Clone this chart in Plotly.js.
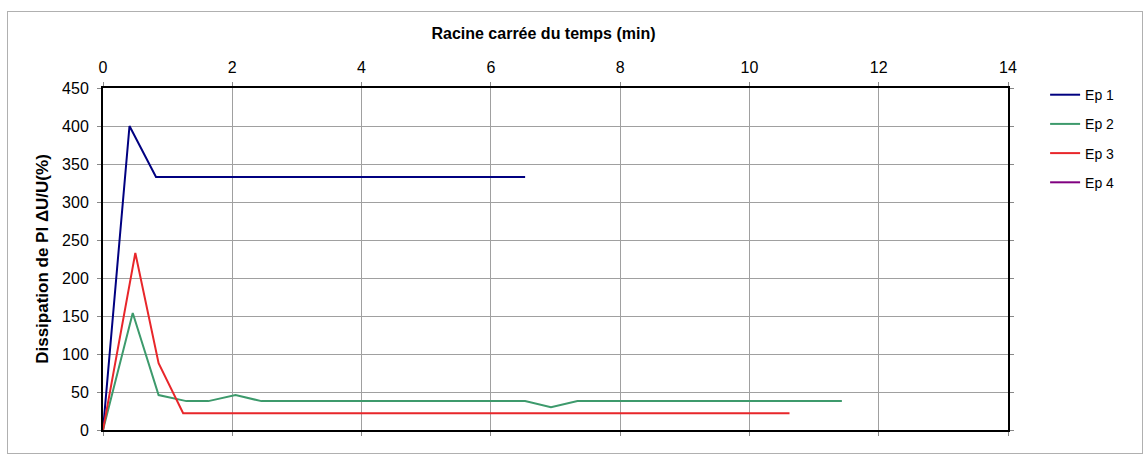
<!DOCTYPE html>
<html><head><meta charset="utf-8">
<script src="https://cdn.plot.ly/plotly-3.0.1.min.js"></script>
<style>
html,body{margin:0;padding:0;background:#fff;}
#frame{position:absolute;left:7px;top:11px;width:1134px;height:441px;border:1px solid #b0b0b0;pointer-events:none;}
#chart{position:absolute;left:0;top:0;width:1146px;height:457px;}
</style></head>
<body>
<div id="chart"></div>
<div id="frame"></div>
<script>
const ep1X = [0, 0.41, 0.82, 6.53];
const ep1Y = [0, 400, 333, 333];
const ep2X = [0, 0.46, 0.86, 1.29, 1.63, 2.05, 2.45, 6.53, 6.93, 7.34, 11.43];
const ep2Y = [0, 154, 46, 38, 38, 46, 38, 38, 30, 38, 38];
const ep3X = [0, 0.50, 0.86, 1.24, 10.62];
const ep3Y = [0, 233, 88, 22, 22];
const ep4X = [];
const ep4Y = [];
const names = ['Ep 1', 'Ep 2', 'Ep 3', 'Ep 4'];
const colors = ['#000080', '#3d9a6c', '#e8262a', '#800080'];
const xTicks = [0, 2, 4, 6, 8, 10, 12, 14];
const yTicks = [0, 50, 100, 150, 200, 250, 300, 350, 400, 450];

const xs = [ep1X, ep2X, ep3X, ep4X];
const ys = [ep1Y, ep2Y, ep3Y, ep4Y];
const traces = names.map((n, i) => ({
  x: xs[i].length ? xs[i] : [null], y: ys[i].length ? ys[i] : [null],
  name: n, type: 'scatter', mode: 'lines', legendgroup: 'g' + i,
  line: {color: colors[i], width: 2}
}));

const layout = {
  width: 1146, height: 457,
  margin: {l: 102.7, r: 138, t: 88.3, b: 26.5},
  paper_bgcolor: '#fff', plot_bgcolor: '#fff',
  font: {family: 'Liberation Sans, Arial, sans-serif', size: 14, color: '#000'},
  title: {text: '<b>Racine carrée du temps (min)</b>', font: {size: 16}, x: 543.5 / 1146, xanchor: 'center', y: 1 - 33 / 457, yanchor: 'middle'},
  xaxis: {
    side: 'top', range: [0, 14], tickvals: xTicks, ticktext: xTicks.map(String),
    showgrid: true, gridcolor: '#a0a0a0', gridwidth: 1,
    showline: true, linecolor: '#000', linewidth: 2, mirror: 'ticks',
    ticks: 'outside', ticklen: 4, tickcolor: '#888', zeroline: false,
    tickfont: {size: 16}, ticklabelstandoff: 3
  },
  yaxis: {
    range: [0, 450], tickvals: yTicks, ticktext: yTicks.map(String),
    showgrid: true, gridcolor: '#a0a0a0', gridwidth: 1,
    showline: true, linecolor: '#000', linewidth: 2, mirror: 'ticks',
    ticks: 'outside', ticklen: 4, tickcolor: '#888', zeroline: false,
    tickfont: {size: 16}, ticklabelstandoff: 5,
    title: {text: '<b>Dissipation de PI ΔU/U(%)</b>', font: {size: 17}, standoff: 9}
  },
  showlegend: true,
  legend: {x: 1.041, xanchor: 'left', y: 1.026, yanchor: 'top', traceorder: 'grouped', tracegroupgap: 8,
    font: {size: 14}, bgcolor: 'rgba(0,0,0,0)'}
};
Plotly.newPlot('chart', traces, layout, {displayModeBar: false, staticPlot: true});
</script>
</body></html>
